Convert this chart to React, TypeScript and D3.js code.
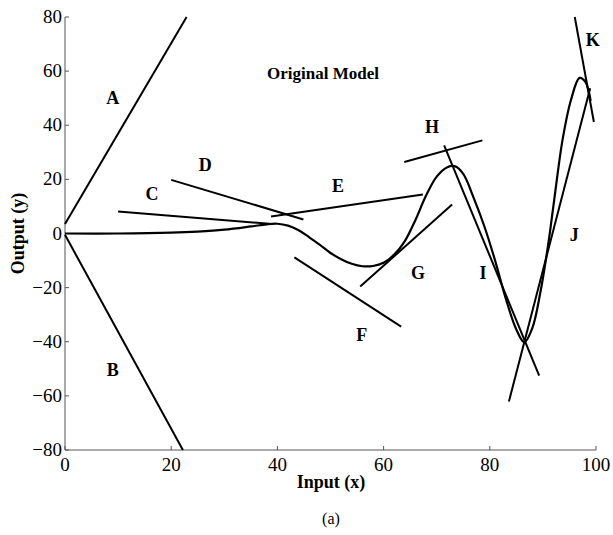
import * as d3 from 'd3'

// original model curve
const modelX = [0, 10, 20, 25, 30, 35, 38, 40, 42, 44, 46, 48, 50, 52, 54, 56, 58, 60, 62, 64, 66, 68, 70, 72, 73.5, 75, 77, 79, 81, 83, 85, 86.5, 88, 89.5, 91, 92.1, 93.7, 95.3, 96.9, 98, 99]
const modelY = [0, 0, 0.3, 0.7, 1.4, 2.6, 3.4, 3.6, 2.9, 1.2, -1.4, -4.2, -7.2, -9.5, -11.2, -12.1, -12, -10.8, -7.8, -2.8, 5, 14, 21, 24.5, 24.8, 22, 13, 2.5, -10, -24, -35.5, -40.2, -35, -22, -4, 12, 34.6, 49.4, 57.5, 56, 49]

// local linear approximations (segments): [x, y] start and end
const segNames = ['A', 'B', 'C', 'D', 'E', 'F', 'G', 'H', 'I', 'J', 'K']
const segStart = [[0, 3.5], [0, -0.5], [10, 8.1], [20, 19.8], [38.8, 6.3], [43.2, -8.8], [55.6, -19.6], [63.9, 26.4], [71.4, 32.6], [83.6, -62.1], [96, 80]]
const segEnd = [[22.9, 80], [22.2, -80], [38.5, 3.6], [44.9, 5.2], [67.4, 14.4], [63.3, -34.4], [72.9, 10.7], [78.6, 34.4], [89.3, -52.5], [98.9, 53.7], [99.6, 41.2]]

// label anchors (data coords, baseline)
const labelX = [9, 9, 16.4, 26.4, 51.4, 55.9, 66.5, 69.1, 78.7, 95.9, 99.4]
const labelY = [48, -52.8, 12.4, 23.1, 15.4, -39.8, -16.9, 37.2, -16.9, -2.8, 69.4]

const xTicks = [0, 20, 40, 60, 80, 100]
const yTicks = [-80, -60, -40, -20, 0, 20, 40, 60, 80]

export default function App() {
  const width = 613
  const height = 535
  const x = d3.scaleLinear().domain([0, 100]).range([65, 596])
  const y = d3.scaleLinear().domain([-80, 80]).range([450, 17])

  const line = d3.line<number>()
    .x((_, i) => x(modelX[i]))
    .y((d) => y(d))
    .curve(d3.curveCatmullRom.alpha(0.5))

  const serif = '"Liberation Serif", "Times New Roman", serif'

  return (
    <svg width={width} height={height} style={{position: 'absolute', left: 0, top: 0}} fontFamily={serif}>
      <rect width={width} height={height} fill={'#fff'} />
      {/* axes */}
      <g stroke={'#555'} strokeWidth={1} fill={'none'}>
        <line x1={x(0)} x2={x(0)} y1={y(80)} y2={y(-80)} />
        <line x1={x(0)} x2={x(100)} y1={y(-80)} y2={y(-80)} />
        {xTicks.map((t) => (
          <line key={'xt' + t} x1={x(t)} x2={x(t)} y1={y(-80)} y2={y(-80) - 4} />
        ))}
        {yTicks.map((t) => (
          <line key={'yt' + t} x1={x(0)} x2={x(0) + 4} y1={y(t)} y2={y(t)} />
        ))}
      </g>
      <g fontSize={19} fill={'#000'}>
        {xTicks.map((t) => (
          <text key={'xl' + t} x={x(t)} y={y(-80) + 21} textAnchor={'middle'}>{t}</text>
        ))}
        {yTicks.map((t) => (
          <text key={'yl' + t} x={x(0) - 3} y={y(t) + 6} textAnchor={'end'}>
            {t < 0 ? '\u2212' + Math.abs(t) : t}
          </text>
        ))}
      </g>
      {/* model */}
      <path d={line(modelY) ?? undefined} fill={'none'} stroke={'#000'} strokeWidth={2.2} />
      {segNames.map((n, i) => (
        <path
          key={'s' + n}
          d={d3.line()([
            [x(segStart[i][0]), y(segStart[i][1])],
            [x(segEnd[i][0]), y(segEnd[i][1])],
          ]) ?? undefined}
          stroke={'#000'}
          strokeWidth={2}
        />
      ))}
      <g fontSize={18} fontWeight={700} fill={'#000'} textAnchor={'middle'}>
        {segNames.map((n, i) => (
          <text key={'l' + n} x={x(labelX[i])} y={y(labelY[i])}>{n}</text>
        ))}
        <text x={x(48.6)} y={y(57.2)} fontSize={17}>Original Model</text>
        <text x={331} y={488}>Input (x)</text>
        <text transform={`translate(24, ${y(0)}) rotate(-90)`}>Output (y)</text>
      </g>
      <text x={331} y={524} fontSize={16} textAnchor={'middle'}>(a)</text>
    </svg>
  )
}
